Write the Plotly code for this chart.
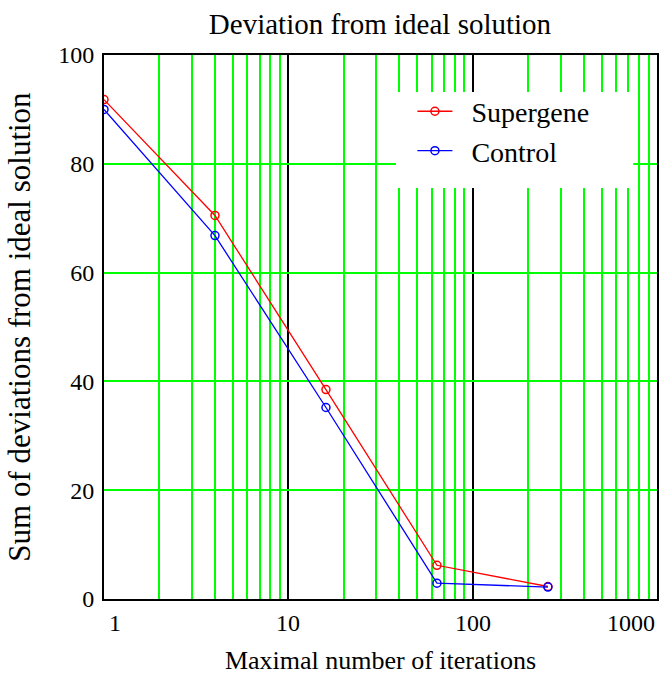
import math
import plotly.graph_objects as go

iterations = [1, 4, 16, 64, 256]
supergene = [91.8, 70.5, 38.5, 6.2, 2.3]
control = [90.0, 66.8, 35.2, 2.9, 2.2]
series_names = ["Supergene", "Control"]

x_tick_vals = [1, 10, 100, 1000]
x_tick_text = ["1", "10", "100", "1000"]
x_tick_anchor = ["left", "center", "center", "right"]
y_tick_vals = [0, 20, 40, 60, 80, 100]

FONT = "Liberation Serif, Times New Roman, serif"
PAD = "\u00a0\u00a0"

fig = go.Figure()
fig.add_trace(go.Scatter(x=iterations, y=supergene, name=PAD + series_names[0], mode="lines+markers",
                         line=dict(color="#FF0000", width=1.3),
                         marker=dict(symbol="circle-open", size=8, color="#FF0000", line=dict(width=1.5))))
fig.add_trace(go.Scatter(x=iterations, y=control, name=PAD + series_names[1], mode="lines+markers",
                         line=dict(color="#0000FF", width=1.3),
                         marker=dict(symbol="circle-open", size=8, color="#0000FF", line=dict(width=1.5))))

for v, t, a in zip(x_tick_vals, x_tick_text, x_tick_anchor):
    fig.add_annotation(x=math.log10(v), y=0, xref="x", yref="paper", text=t, showarrow=False,
                       xanchor=a, yanchor="middle", yshift=-24, xshift=(3 if a == "left" else 0),
                       font=dict(family=FONT, size=24, color="black"))

# white box behind legend hides gridlines
fig.add_shape(type="rect", xref="paper", yref="paper", x0=0.528, x1=0.957, y0=0.7555, y1=0.932,
              fillcolor="white", line=dict(width=0), layer="above")

fig.update_layout(
    width=659, height=675,
    margin=dict(l=104, r=2, t=55, b=76, autoexpand=False),
    paper_bgcolor="white", plot_bgcolor="white",
    title=dict(text="Deviation from ideal solution", x=0.5766, xanchor="center", y=0.9645, yanchor="middle",
               font=dict(family=FONT, size=29, color="black")),
    font=dict(family=FONT, color="black"),
    showlegend=True,
    legend=dict(x=0.5577, xanchor="left", y=0.942, yanchor="top", bgcolor="rgba(0,0,0,0)",
                font=dict(family=FONT, size=28, color="black"), itemwidth=35,
                tracegroupgap=0),
    xaxis=dict(type="log", range=[0, 3], showticklabels=False, ticks="", automargin=False,
               showgrid=True, gridcolor="black", gridwidth=2, dtick=1,
               minor=dict(showgrid=True, gridcolor="#00FF00", gridwidth=2, dtick="D1", ticks=""),
               showline=True, linecolor="black", linewidth=2, mirror=True, zeroline=False,
               title=dict(text="Maximal number of iterations", standoff=52,
                          font=dict(family=FONT, size=26, color="black"))),
    yaxis=dict(range=[0, 100], tickvals=y_tick_vals, showgrid=True, gridcolor="#00FF00", gridwidth=2,
               ticks="outside", ticklen=3, tickcolor="rgba(0,0,0,0)", automargin=False,
               tickfont=dict(family=FONT, size=24, color="black"),
               showline=True, linecolor="black", linewidth=2, mirror=True, zeroline=False,
               title=dict(text="Sum of deviations from ideal solution", standoff=18,
                          font=dict(family=FONT, size=31, color="black"))),
)

fig.write_html("out.html", config={"displayModeBar": False},
               post_script="document.body.style.margin='0';document.body.style.overflow='hidden';")
